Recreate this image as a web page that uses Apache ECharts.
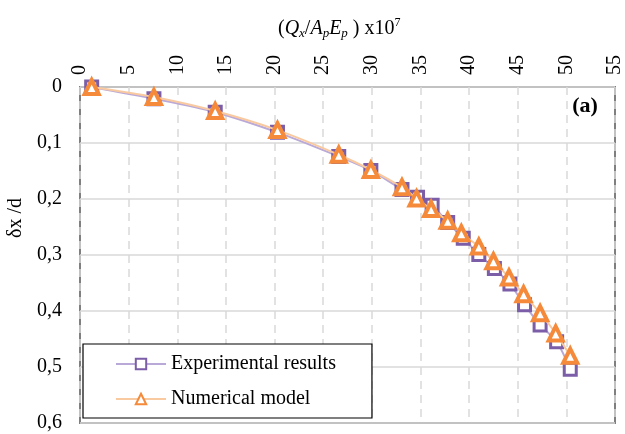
<!DOCTYPE html>
<html>
<head>
<meta charset="utf-8">
<script src="https://cdn.jsdelivr.net/npm/echarts@6/dist/echarts.min.js"></script>
<style>html,body{margin:0;padding:0;background:#fff;}#c{width:625px;height:434px;}</style>
</head>
<body>
<div id="c"></div>
<script>
// Data
const expX = [1.2, 7.6, 13.9, 20.3, 26.6, 29.9, 33.1, 34.7, 36.2, 37.8, 39.4, 41.0, 42.6, 44.2, 45.7, 47.3, 49.0, 50.4];
const expY = [0.0, 0.021, 0.045, 0.081, 0.124, 0.149, 0.183, 0.197, 0.211, 0.242, 0.270, 0.299, 0.324, 0.352, 0.389, 0.425, 0.455, 0.504];
const numX = [1.2, 7.6, 13.9, 20.3, 26.6, 29.9, 33.1, 34.6, 36.1, 37.8, 39.2, 41.0, 42.5, 44.1, 45.6, 47.3, 48.9, 50.4];
const numY = [0.0, 0.018, 0.043, 0.077, 0.121, 0.148, 0.179, 0.199, 0.218, 0.239, 0.261, 0.285, 0.311, 0.340, 0.370, 0.404, 0.440, 0.480];
const seriesNames = ['Experimental results', 'Numerical model'];
const xTicks = {min: 0, max: 55, interval: 5};
const yTicks = {min: 0, max: 0.6, interval: 0.1};

const serif = '"Liberation Serif", "Times New Roman", serif';
const chart = echarts.init(document.getElementById('c'), null, {renderer: 'canvas'});
const pair = (xs, ys) => xs.map((x, i) => [x, ys[i]]);

chart.setOption({
  animation: false,
  backgroundColor: '#ffffff',
  grid: {left: 80, right: 5, top: 87, bottom: 11, show: true, borderColor: '#7f7f7f', borderWidth: 2, backgroundColor: 'transparent'},
  title: {
    left: 273, top: 12,
    text: '({i|Q}{sub|x}/{i|A}{sub|p}{i|E}{sub|p} ) x10{sup|7}',
    textStyle: {
      fontFamily: serif, fontSize: 20, color: '#000', fontWeight: 'normal',
      rich: {
        i: {fontFamily: serif, fontStyle: 'italic', fontSize: 20, color: '#000'},
        sub: {fontFamily: serif, fontStyle: 'italic', fontSize: 13, color: '#000', verticalAlign: 'bottom', padding: [10, 0, 0, 0]},
        sup: {fontFamily: serif, fontSize: 12, color: '#000', verticalAlign: 'top', padding: [0, 0, 10, 0]}
      }
    }
  },
  legend: {
    left: 83, top: 344, orient: 'vertical',
    backgroundColor: '#fff', borderColor: '#000', borderWidth: 1.2,
    padding: [10, 36, 9, 32], itemGap: 15, itemWidth: 50, itemHeight: 13,
    textStyle: {fontFamily: serif, fontSize: 20, color: '#000', lineHeight: 20},
    data: seriesNames
  },
  graphic: [
    {type: 'text', x: 16, y: 218, rotation: Math.PI / 2,
     style: {text: 'δx /d', font: '20px ' + serif, fill: '#000', textAlign: 'center', textVerticalAlign: 'middle'}},
    {type: 'text', x: 585, y: 106,
     style: {text: '(a)', font: 'bold 22px ' + serif, fill: '#000', textAlign: 'center', textVerticalAlign: 'middle'}}
  ],
  xAxis: {
    type: 'value', position: 'top', min: xTicks.min, max: xTicks.max, interval: xTicks.interval,
    axisLine: {show: false}, axisTick: {show: false},
    axisLabel: {rotate: 90, margin: 12, fontFamily: serif, fontSize: 20, color: '#000'},
    splitLine: {show: true, lineStyle: {color: '#d9d9d9', type: [8, 6], width: 1.5}}
  },
  yAxis: {
    type: 'value', inverse: true, min: yTicks.min, max: yTicks.max, interval: yTicks.interval,
    axisLine: {show: false}, axisTick: {show: false},
    axisLabel: {margin: 18, fontFamily: serif, fontSize: 20, color: '#000',
      formatter: v => String(Math.round(v * 10) / 10).replace('.', ',')},
    splitLine: {show: true, lineStyle: {color: '#d9d9d9', width: 1.5}}
  },
  series: [
    {
      name: seriesNames[0], type: 'line', smooth: 0.3, data: pair(expX, expY),
      symbol: 'rect', symbolSize: 12,
      lineStyle: {color: '#b9a9d8', width: 2},
      itemStyle: {color: '#ffffff', borderColor: '#7b5ea7', borderWidth: 3},
      z: 2
    },
    {
      name: seriesNames[1], type: 'line', smooth: 0.3, data: pair(numX, numY),
      symbol: 'triangle', symbolSize: 14,
      lineStyle: {color: '#f9c9a0', width: 2},
      itemStyle: {color: '#ffffff', borderColor: '#f58a3a', borderWidth: 4},
      z: 3
    }
  ]
});
</script>
</body>
</html>
